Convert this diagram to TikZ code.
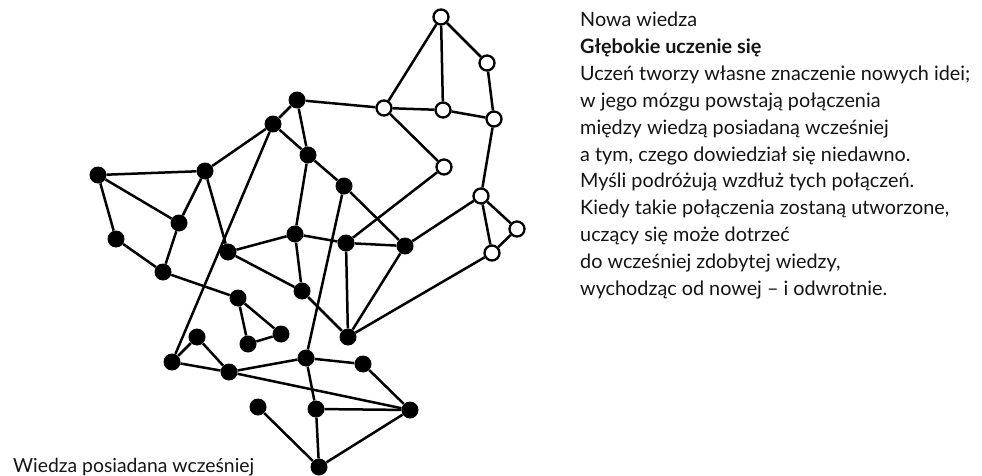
\documentclass[tikz,border=0pt]{standalone}
\usepackage{fontspec}
\setmainfont{Lato}
\newlength\probelen
\newlength\probeleft
\begin{document}
% size the text so the widest line spans 390pt and the lower caption 241pt
\settowidth\probelen{\fontsize{10pt}{12pt}\selectfont Uczeń tworzy własne znaczenie nowych idei;}%
\settowidth\probeleft{\fontsize{10pt}{12pt}\selectfont Wiedza posiadana wcześniej}%
\pgfmathsetmacro\fs{10*390/\probelen}%
\pgfmathsetmacro\fsl{10*241/\probeleft}%
\begin{tikzpicture}[x=1pt,y=-1pt,
  edge/.style={line width=2.5pt,black},
  known/.style={circle,fill=black,draw=none,minimum size=17pt,inner sep=0pt},
  fresh/.style={circle,fill=white,draw=black,line width=2.3pt,minimum size=15pt,inner sep=0pt},
  txt/.style={font=\fontsize{\fs pt}{\fs pt}\selectfont,anchor=base west,inner sep=0pt,text=black!92}]
\useasboundingbox (0,0) rectangle (982,476);

% previously acquired knowledge (filled nodes)
\node[known] (b1)  at (98,175) {};
\node[known] (b2)  at (205,171) {};
\node[known] (b3)  at (179,223) {};
\node[known] (b4)  at (116,239) {};
\node[known] (b5)  at (163,272) {};
\node[known] (b6)  at (297,100) {};
\node[known] (b7)  at (273,124) {};
\node[known] (b8)  at (308,155) {};
\node[known] (b9)  at (344,186) {};
\node[known] (b10) at (295,234) {};
\node[known] (b11) at (228,252) {};
\node[known] (b12) at (346,243) {};
\node[known] (b13) at (405,246) {};
\node[known] (b14) at (302,291) {};
\node[known] (b15) at (238,298) {};
\node[known] (b16) at (281,334) {};
\node[known] (b17) at (248,344) {};
\node[known] (b18) at (197,337) {};
\node[known] (b19) at (172,362) {};
\node[known] (b20) at (229,372) {};
\node[known] (b21) at (306,358) {};
\node[known] (b22) at (348,337) {};
\node[known] (b23) at (363,364) {};
\node[known] (b24) at (410,410) {};
\node[known] (b25) at (316,409) {};
\node[known] (b26) at (258,407) {};
\node[known] (b27) at (319,467) {};

% new knowledge (open nodes)
\node[fresh] (w1) at (441,17) {};
\node[fresh] (w2) at (487,63) {};
\node[fresh] (w3) at (384,108) {};
\node[fresh] (w4) at (443,110) {};
\node[fresh] (w5) at (494,119) {};
\node[fresh] (w6) at (444,167) {};
\node[fresh] (w7) at (481,196) {};
\node[fresh] (w8) at (517,229) {};
\node[fresh] (w9) at (492,253) {};

% connections
\foreach \a/\b in {b1/b2,b1/b3,b1/b4,b4/b5,b3/b2,b3/b5,b2/b11,b2/b7,b7/b6,b7/b8,
  b6/b8,b6/w3,b7/b19,b8/b9,b8/b10,b9/b13,b9/b21,b10/b11,b10/b12,b10/b14,b11/b14,
  b12/b13,b12/b22,b12/w6,b13/w7,b13/b22,b14/b22,b5/b15,b15/b16,b15/b17,b17/b16,
  b19/b18,b19/b20,b18/b20,b20/b21,b20/b24,b21/b23,b23/b24,b21/b25,b25/b24,b25/b27,
  b26/b27,b24/b27,w9/b22,w1/w3,w1/w4,w1/w2,w2/w5,w3/w4,w4/w5,w3/w6,w5/w7,w7/w9,
  w7/w8,w8/w9}
  \draw[edge] (\a) -- (\b);

% captions
\node[txt,font=\fontsize{\fsl pt}{\fsl pt}\selectfont] (old) at (13,472) {Wiedza posiadana wcześniej};
\node[txt] (t1)  at (580,27.0)  {Nowa wiedza};
\node[txt] (t2)  at (580,53.8)  {\bfseries Głębokie uczenie się};
\node[txt] (t3)  at (580,80.6)  {Uczeń tworzy własne znaczenie nowych idei;};
\node[txt] (t4)  at (580,107.4) {w jego mózgu powstają połączenia};
\node[txt] (t5)  at (580,134.2) {między wiedzą posiadaną wcześniej};
\node[txt] (t6)  at (580,161.0) {a tym, czego dowiedział się niedawno.};
\node[txt] (t7)  at (580,187.8) {Myśli podróżują wzdłuż tych połączeń.};
\node[txt] (t8)  at (580,214.6) {Kiedy takie połączenia zostaną utworzone,};
\node[txt] (t9)  at (580,241.4) {uczący się może dotrzeć};
\node[txt] (t10) at (580,268.2) {do wcześniej zdobytej wiedzy,};
\node[txt] (t11) at (580,295.0) {wychodząc od nowej -- i odwrotnie.};
\end{tikzpicture}
\end{document}
